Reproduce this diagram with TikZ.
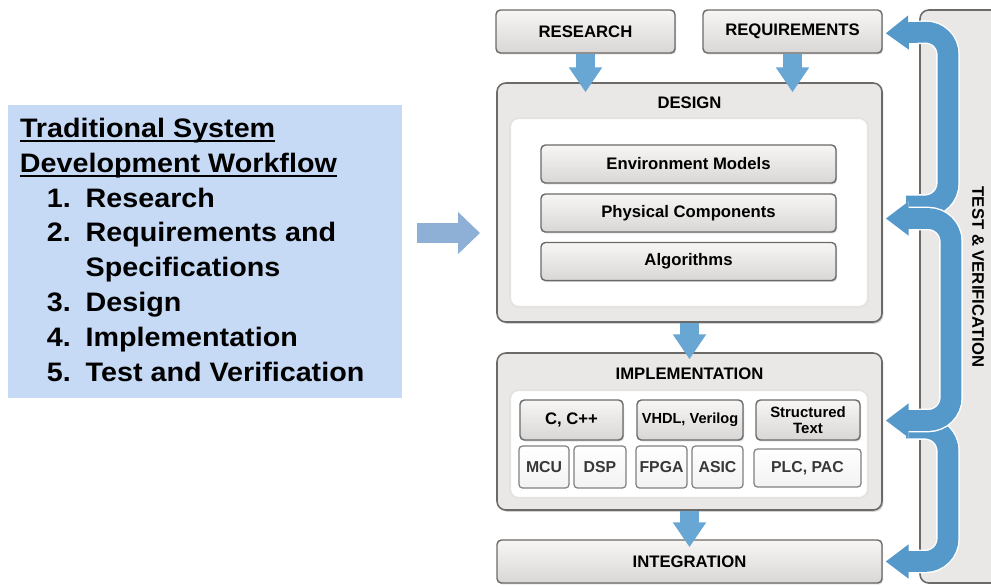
\documentclass[tikz,border=0pt]{standalone}
\usepackage{fontspec}
\setmainfont{Liberation Sans}
\newfontfamily\listfont[FakeStretch=1.075]{Liberation Sans}
\usepackage{tikz}
\usetikzlibrary{arrows.meta, positioning, shadows}

\definecolor{listblue}{HTML}{C6DAF6}
\definecolor{leadblue}{HTML}{8FB0D6}
\definecolor{flowblue}{HTML}{68A6D4}
\definecolor{fbblue}{HTML}{5599CB}
\definecolor{boxtop}{HTML}{F7F6F4}
\definecolor{boxbottom}{HTML}{D9D7D5}
\definecolor{boxedge}{HTML}{6B6A69}
\definecolor{panelgrey}{HTML}{EAE8E6}

\newdimen\unitpx
\unitpx=0.02cm

% underlined heading line, rule sits just under the baseline
\newcommand\headline[1]{\setbox0\hbox{#1}\rlap{\rule[-2.6pt]{\wd0}{1.2pt}}\box0}
% numbered workflow step
\newcommand\wfitem[2]{\hspace*{15.3pt}\makebox[22.1pt][l]{#1}#2}

\tikzset{
  flowtip/.tip={Triangle[width=18.1pt, length=14.2pt]},
  fbtip/.tip={Triangle[width=18.6pt, length=13pt]},
  leadtip/.tip={Triangle[width=23.2pt, length=12.5pt]}
}

\begin{document}
\begin{tikzpicture}[x=0.02cm, y=-0.02cm,
    stagebox/.style={draw=boxedge, line width=0.8pt, rounded corners=2.5pt,
      top color=boxtop, bottom color=boxbottom, inner sep=0pt,
      font=\bfseries\fontsize{9.5}{11}\selectfont,
      drop shadow={shadow xshift=0.6pt, shadow yshift=-0.8pt, opacity=0.35}},
    stagepanel/.style={draw=boxedge, line width=0.9pt, rounded corners=5pt,
      fill=panelgrey, inner sep=0pt,
      drop shadow={shadow xshift=0.8pt, shadow yshift=-1pt, opacity=0.35}},
    innerpanel/.style={draw=gray!22, line width=1.2pt, rounded corners=5pt,
      fill=white, inner sep=0pt},
    chipbox/.style={draw=boxedge!85, line width=0.7pt, rounded corners=2pt,
      top color=white, bottom color=gray!10, inner sep=0pt, text=black!78,
      font=\bfseries\fontsize{9}{10}\selectfont},
    panellabel/.style={font=\bfseries\fontsize{9.5}{11}\selectfont, inner sep=0pt},
    flowarrow/.style={draw=flowblue, line width=11.3pt, -flowtip},
    feedback/.style={draw=fbblue, line width=11.8pt, rounded corners=13pt,
      preaction={draw=white, line width=13.4pt}},
  ]
  \useasboundingbox (0,0) rectangle (991,586);

  % Workflow list
  \node[fill=listblue, inner sep=0pt, minimum width=394\unitpx, minimum height=293\unitpx]
    (listbox) at (205,251.5) {};
  \node[anchor=north west, inner sep=0pt, align=left,
    font=\listfont\bfseries\fontsize{15.2}{19.85}\selectfont]
    (steps) at ([shift={(12,13)}]listbox.north west) {%
    \headline{Traditional System}\\
    \headline{Development Workflow}\\
    \wfitem{1.}{Research}\\
    \wfitem{2.}{Requirements and}\\
    \wfitem{}{Specifications}\\
    \wfitem{3.}{Design}\\
    \wfitem{4.}{Implementation}\\
    \wfitem{5.}{Test and Verification}};

  \coordinate (leadstart) at (417,233);
  \coordinate (leadend) at (480,233);
  \draw[draw=leadblue, line width=11.3pt, -leadtip] (leadstart) -- (leadend);

  % Test & verification column
  \begin{scope}
    \clip (0,0) rectangle (991,586);
    \draw[draw=boxedge, line width=0.9pt, rounded corners=5pt, fill=panelgrey]
      (920,10) rectangle (1010,583);
  \end{scope}
  \node[rotate=-90, panellabel] (tvlabel) at (978,277) {TEST \& VERIFICATION};

  % Stages
  \node[stagebox, minimum width=179\unitpx, minimum height=43\unitpx]
    (research) at (585.5,31.5) {RESEARCH};
  \node[stagebox, minimum width=179\unitpx, minimum height=43\unitpx]
    (requirements) at (792.5,31.5) {REQUIREMENTS};

  \node[stagepanel, minimum width=385\unitpx, minimum height=239\unitpx]
    (design) at (689.5,202.5) {};
  \node[panellabel] (designlabel) at ([yshift=-11.9pt]design.north) {DESIGN};
  \node[innerpanel, minimum width=358\unitpx, minimum height=189\unitpx]
    (designin) at (689,212.5) {};
  \node[stagebox, minimum width=295\unitpx, minimum height=38\unitpx]
    (envmodels) at (688.5,164) {Environment Models};
  \node[stagebox, minimum width=295\unitpx, minimum height=38\unitpx]
    (physcomp) at (688.5,213) {Physical Components};
  \node[stagebox, minimum width=295\unitpx, minimum height=38\unitpx]
    (algorithms) at (688.5,261.5) {Algorithms};

  \node[stagepanel, minimum width=385\unitpx, minimum height=157\unitpx]
    (impl) at (689.5,431.5) {};
  \node[panellabel] (impllabel) at ([yshift=-12.5pt]impl.north) {IMPLEMENTATION};
  \node[innerpanel, minimum width=358\unitpx, minimum height=108\unitpx]
    (implin) at (689,444) {};
  \node[stagebox, minimum width=103\unitpx, minimum height=40\unitpx]
    (ccpp) at (571.5,420) {C, C++};
  \node[stagebox, minimum width=106\unitpx, minimum height=40\unitpx,
    font=\bfseries\fontsize{8.3}{10}\selectfont]
    (vhdl) at (690,420) {VHDL, Verilog};
  \node[stagebox, minimum width=104\unitpx, minimum height=40\unitpx, align=center,
    font=\bfseries\fontsize{8.5}{9.5}\selectfont]
    (sttext) at (808,420) {Structured\\Text};
  \node[chipbox, minimum width=50\unitpx, minimum height=42\unitpx] (mcu) at (544,467) {MCU};
  \node[chipbox, minimum width=52\unitpx, minimum height=42\unitpx] (dsp) at (600,467) {DSP};
  \node[chipbox, minimum width=51\unitpx, minimum height=42\unitpx] (fpga) at (661.5,467) {FPGA};
  \node[chipbox, minimum width=51\unitpx, minimum height=42\unitpx] (asic) at (717.5,467) {ASIC};
  \node[chipbox, minimum width=107\unitpx, minimum height=38\unitpx] (plcpac) at (807.5,468) {PLC, PAC};

  \node[stagebox, minimum width=385\unitpx, minimum height=43\unitpx]
    (integ) at (689.5,561.5) {INTEGRATION};

  % Forward flow
  \draw[flowarrow, shorten >=-5.7pt] (research.south) -- (research.south |- design.north);
  \draw[flowarrow, shorten >=-5.7pt] (requirements.south) -- (requirements.south |- design.north);
  \draw[flowarrow, shorten >=-4pt] (design.south) -- (impl.north);
  \draw[flowarrow, shorten >=-4.5pt] (impl.south) -- (integ.north);

  % Feedback from test & verification
  \coordinate (fbcol) at (948,0);
  \coordinate (fbtop) at (906,206);
  \coordinate (fbbottom) at (906,428);
  \draw[feedback, -fbtip] (fbtop) -- (fbtop -| fbcol)
    -- (fbcol |- requirements.east) -- ([xshift=1.7pt, yshift=-1pt]requirements.east);
  \draw[feedback, -fbtip] (fbbottom) -- (fbbottom -| fbcol)
    -- (fbcol |- integ.east) -- ([xshift=1.7pt]integ.east);
  \draw[feedback, fbtip-fbtip] ([shift={(3,16)}]design.east) -- ([shift={(3,16)}]design.east -| fbcol)
    -- ([shift={(3,-11)}]impl.east -| fbcol) -- ([shift={(3,-11)}]impl.east);

\end{tikzpicture}
\end{document}
